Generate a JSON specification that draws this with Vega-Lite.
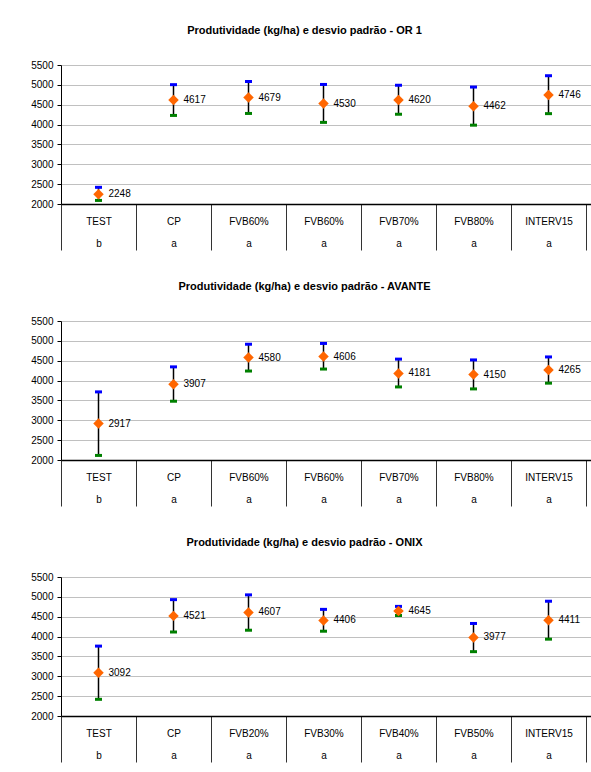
{
  "$schema": "https://vega.github.io/schema/vega-lite/v6.json",
  "padding": {"left": 30, "top": 25, "right": 0, "bottom": 0},
  "background": "white",
  "config": {
    "font": "Liberation Sans",
    "view": {"stroke": null},
    "concat": {"spacing": 30},
    "title": {"fontSize": 11, "fontWeight": "bold", "offset": 24, "dx": -22, "color": "black"},
    "axisY": {"title": null, "labelOverlap": false, "format": "d", "tickSize": 4, "labelPadding": 4, "labelFontSize": 10, "labelColor": "black", "grid": true, "gridColor": "#c0c0c0", "gridWidth": 1.2, "domainColor": "#000000", "tickColor": "#000000"},
    "axisX": {"title": null, "labelAngle": 0, "labelLineHeight": 22, "labelBaseline": "top", "labelPadding": -34, "labelFontSize": 10, "labelColor": "black", "tickBand": "extent", "tickSize": 46, "tickColor": "#333333", "domainColor": "#000000", "domainWidth": 1.5, "grid": false}
  },
  "data": {
    "values": [
      {"panel": "OR 1", "key": "1|TEST|b", "mean": 2248, "lo": 2090, "hi": 2420},
      {"panel": "OR 1", "key": "2|CP|a", "mean": 4617, "lo": 4230, "hi": 5005},
      {"panel": "OR 1", "key": "3|FVB60%|a", "mean": 4679, "lo": 4280, "hi": 5085},
      {"panel": "OR 1", "key": "4|FVB60%|a", "mean": 4530, "lo": 4055, "hi": 5010},
      {"panel": "OR 1", "key": "5|FVB70%|a", "mean": 4620, "lo": 4260, "hi": 4990},
      {"panel": "OR 1", "key": "6|FVB80%|a", "mean": 4462, "lo": 3985, "hi": 4945},
      {"panel": "OR 1", "key": "7|INTERV15|a", "mean": 4746, "lo": 4275, "hi": 5230},
      {"panel": "AVANTE", "key": "1|TEST|b", "mean": 2917, "lo": 2115, "hi": 3715},
      {"panel": "AVANTE", "key": "2|CP|a", "mean": 3907, "lo": 3480, "hi": 4345},
      {"panel": "AVANTE", "key": "3|FVB60%|a", "mean": 4580, "lo": 4240, "hi": 4915},
      {"panel": "AVANTE", "key": "4|FVB60%|a", "mean": 4606, "lo": 4290, "hi": 4935},
      {"panel": "AVANTE", "key": "5|FVB70%|a", "mean": 4181, "lo": 3840, "hi": 4540},
      {"panel": "AVANTE", "key": "6|FVB80%|a", "mean": 4150, "lo": 3790, "hi": 4520},
      {"panel": "AVANTE", "key": "7|INTERV15|a", "mean": 4265, "lo": 3935, "hi": 4595},
      {"panel": "ONIX", "key": "1|TEST|b", "mean": 3092, "lo": 2420, "hi": 3760},
      {"panel": "ONIX", "key": "2|CP|a", "mean": 4521, "lo": 4115, "hi": 4930},
      {"panel": "ONIX", "key": "3|FVB20%|a", "mean": 4607, "lo": 4160, "hi": 5050},
      {"panel": "ONIX", "key": "4|FVB30%|a", "mean": 4406, "lo": 4135, "hi": 4685},
      {"panel": "ONIX", "key": "5|FVB40%|a", "mean": 4645, "lo": 4530, "hi": 4760},
      {"panel": "ONIX", "key": "6|FVB50%|a", "mean": 3977, "lo": 3620, "hi": 4330},
      {"panel": "ONIX", "key": "7|INTERV15|a", "mean": 4411, "lo": 3935, "hi": 4890}
    ]
  },
  "vconcat": [
    {
      "width": 531, "height": 139,
      "title": "Produtividade (kg/ha) e desvio padrão - OR 1",
      "transform": [{"filter": "datum.panel === 'OR 1'"}],
      "encoding": {
        "x": {"field": "key", "type": "ordinal", "scale": {"paddingInner": 0, "paddingOuter": 0.04, "align": 0},
          "axis": {"labelExpr": "slice(split(datum.value, '|'), 1)"}},
        "y": {"type": "quantitative", "scale": {"domain": [2000, 5500], "nice": false, "zero": false}, "axis": {"values": [2000, 2500, 3000, 3500, 4000, 4500, 5000, 5500]}}
      },
      "layer": [
        {"mark": {"type": "rule", "color": "black", "strokeWidth": 1.5}, "encoding": {"y": {"field": "lo"}, "y2": {"field": "hi"}}},
        {"mark": {"type": "tick", "color": "#0000ff", "size": 7, "thickness": 3, "opacity": 1}, "encoding": {"y": {"field": "hi"}}},
        {"mark": {"type": "tick", "color": "#008000", "size": 7, "thickness": 3, "opacity": 1}, "encoding": {"y": {"field": "lo"}}},
        {"mark": {"type": "point", "shape": "diamond", "filled": true, "color": "#ff6600", "size": 110, "opacity": 1}, "encoding": {"y": {"field": "mean"}}},
        {"mark": {"type": "text", "align": "left", "baseline": "middle", "dx": 10, "fontSize": 10, "color": "black"}, "encoding": {"y": {"field": "mean"}, "text": {"field": "mean", "type": "quantitative", "format": "d"}}}
      ]
    },
    {
      "width": 531, "height": 139,
      "title": "Produtividade (kg/ha) e desvio padrão - AVANTE",
      "transform": [{"filter": "datum.panel === 'AVANTE'"}],
      "encoding": {
        "x": {"field": "key", "type": "ordinal", "scale": {"paddingInner": 0, "paddingOuter": 0.04, "align": 0},
          "axis": {"labelExpr": "slice(split(datum.value, '|'), 1)"}},
        "y": {"type": "quantitative", "scale": {"domain": [2000, 5500], "nice": false, "zero": false}, "axis": {"values": [2000, 2500, 3000, 3500, 4000, 4500, 5000, 5500]}}
      },
      "layer": [
        {"mark": {"type": "rule", "color": "black", "strokeWidth": 1.5}, "encoding": {"y": {"field": "lo"}, "y2": {"field": "hi"}}},
        {"mark": {"type": "tick", "color": "#0000ff", "size": 7, "thickness": 3, "opacity": 1}, "encoding": {"y": {"field": "hi"}}},
        {"mark": {"type": "tick", "color": "#008000", "size": 7, "thickness": 3, "opacity": 1}, "encoding": {"y": {"field": "lo"}}},
        {"mark": {"type": "point", "shape": "diamond", "filled": true, "color": "#ff6600", "size": 110, "opacity": 1}, "encoding": {"y": {"field": "mean"}}},
        {"mark": {"type": "text", "align": "left", "baseline": "middle", "dx": 10, "fontSize": 10, "color": "black"}, "encoding": {"y": {"field": "mean"}, "text": {"field": "mean", "type": "quantitative", "format": "d"}}}
      ]
    },
    {
      "width": 531, "height": 139,
      "title": "Produtividade (kg/ha) e desvio padrão - ONIX",
      "transform": [{"filter": "datum.panel === 'ONIX'"}],
      "encoding": {
        "x": {"field": "key", "type": "ordinal", "scale": {"paddingInner": 0, "paddingOuter": 0.04, "align": 0},
          "axis": {"labelExpr": "slice(split(datum.value, '|'), 1)"}},
        "y": {"type": "quantitative", "scale": {"domain": [2000, 5500], "nice": false, "zero": false}, "axis": {"values": [2000, 2500, 3000, 3500, 4000, 4500, 5000, 5500]}}
      },
      "layer": [
        {"mark": {"type": "rule", "color": "black", "strokeWidth": 1.5}, "encoding": {"y": {"field": "lo"}, "y2": {"field": "hi"}}},
        {"mark": {"type": "tick", "color": "#0000ff", "size": 7, "thickness": 3, "opacity": 1}, "encoding": {"y": {"field": "hi"}}},
        {"mark": {"type": "tick", "color": "#008000", "size": 7, "thickness": 3, "opacity": 1}, "encoding": {"y": {"field": "lo"}}},
        {"mark": {"type": "point", "shape": "diamond", "filled": true, "color": "#ff6600", "size": 110, "opacity": 1}, "encoding": {"y": {"field": "mean"}}},
        {"mark": {"type": "text", "align": "left", "baseline": "middle", "dx": 10, "fontSize": 10, "color": "black"}, "encoding": {"y": {"field": "mean"}, "text": {"field": "mean", "type": "quantitative", "format": "d"}}}
      ]
    }
  ]
}
